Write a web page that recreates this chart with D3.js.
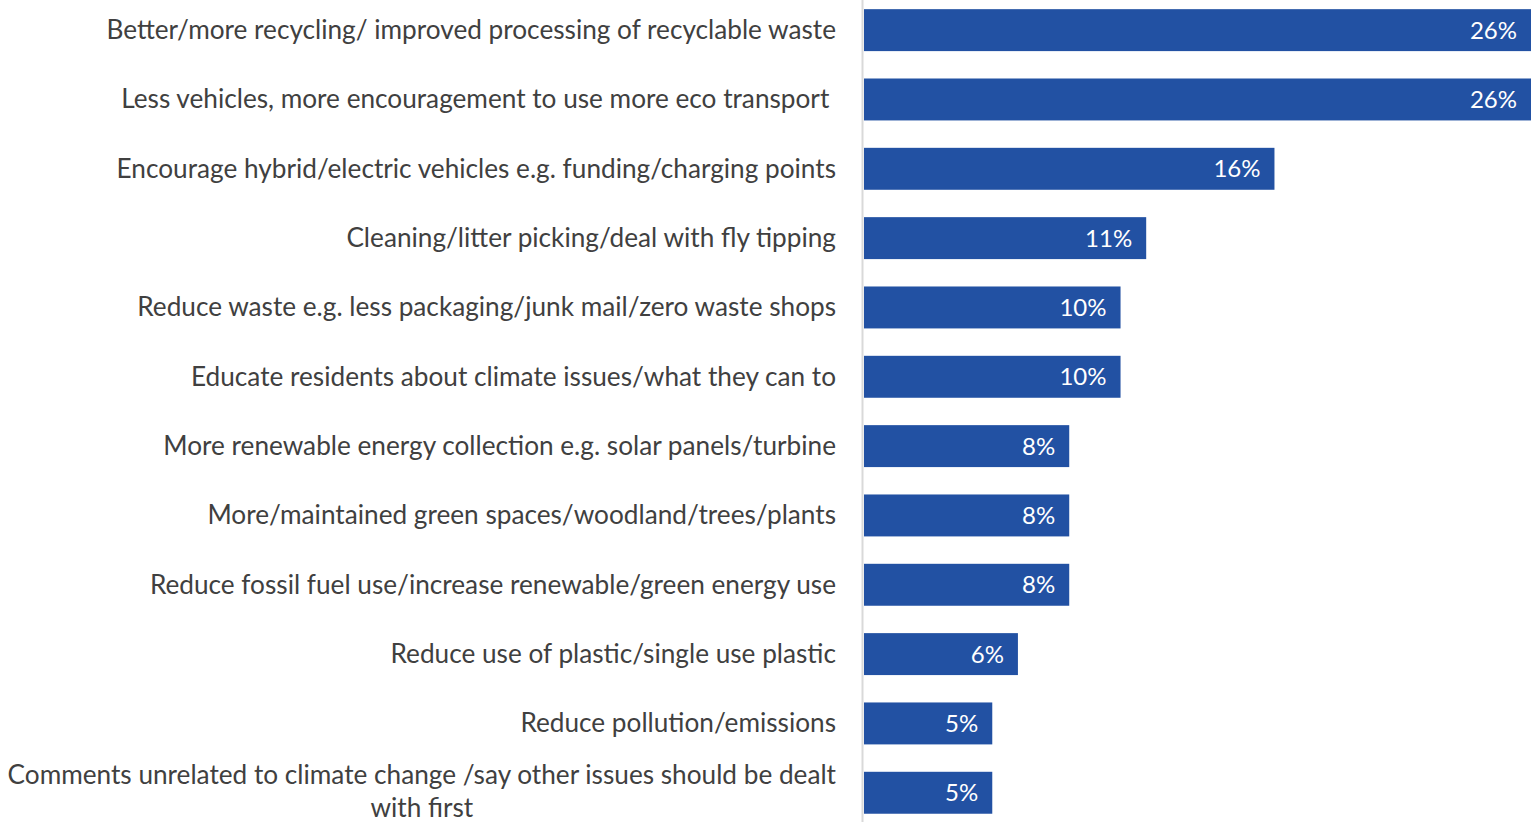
<!DOCTYPE html>
<html><head><meta charset="utf-8">
<script src="https://cdn.jsdelivr.net/npm/d3@7"></script>
<style>
html,body{margin:0;padding:0;background:#fff;}
svg text{white-space:pre;}
</style></head>
<body>
<svg id="chart" width="1531" height="822"></svg>
<script>
const categories = [
  "Better/more recycling/ improved processing of recyclable waste",
  "Less vehicles, more encouragement to use more eco transport ",
  "Encourage hybrid/electric vehicles e.g. funding/charging points",
  "Cleaning/litter picking/deal with fly tipping",
  "Reduce waste e.g. less packaging/junk mail/zero waste shops",
  "Educate residents about climate issues/what they can to",
  "More renewable energy collection e.g. solar panels/turbine",
  "More/maintained green spaces/woodland/trees/plants",
  "Reduce fossil fuel use/increase renewable/green energy use",
  "Reduce use of plastic/single use plastic",
  "Reduce pollution/emissions",
  "Comments unrelated to climate change /say other issues should be dealt with first"
];
const labelLines = [
  ["Better/more recycling/ improved processing of recyclable waste"],
  ["Less vehicles, more encouragement to use more eco transport "],
  ["Encourage hybrid/electric vehicles e.g. funding/charging points"],
  ["Cleaning/litter picking/deal with fly tipping"],
  ["Reduce waste e.g. less packaging/junk mail/zero waste shops"],
  ["Educate residents about climate issues/what they can to"],
  ["More renewable energy collection e.g. solar panels/turbine"],
  ["More/maintained green spaces/woodland/trees/plants"],
  ["Reduce fossil fuel use/increase renewable/green energy use"],
  ["Reduce use of plastic/single use plastic"],
  ["Reduce pollution/emissions"],
  ["Comments unrelated to climate change /say other issues should be dealt", "with first"]
];
const values = [26, 26, 16, 11, 10, 10, 8, 8, 8, 6, 5, 5];

const svg = d3.select("#chart");
const x0 = 864, x1 = 1531;
const x = d3.scaleLinear().domain([0, 26]).range([x0, x1]);
const y = d3.scaleBand().domain(categories).range([-4.7, 827.6]).paddingInner(0.395).paddingOuter(0.2);

const font = "Lato, 'Open Sans', sans-serif";
const textColor = "#404040";
const labelSize = 26.2;

svg.append("line").attr("x1", 862.5).attr("x2", 862.5).attr("y1", 0).attr("y2", 822)
  .attr("stroke", "#d9d9d9").attr("stroke-width", 2);

svg.selectAll("rect.bar").data(values).join("rect")
  .attr("class", "bar")
  .attr("x", x(0))
  .attr("y", (d, i) => y(categories[i]))
  .attr("width", d => x(d) - x(0))
  .attr("height", y.bandwidth())
  .attr("fill", "#2251A3");

svg.selectAll("text.val").data(values).join("text")
  .attr("class", "val")
  .attr("x", d => x(d) - 14)
  .attr("y", (d, i) => y(categories[i]) + y.bandwidth() / 2)
  .attr("dy", "0.36em")
  .attr("text-anchor", "end")
  .attr("fill", "#fff")
  .attr("font-family", font)
  .attr("font-size", 24)
  .text(d => d + "%");

const lab = svg.selectAll("g.lab").data(categories).join("g").attr("class", "lab");
lab.each(function (c, i) {
  const g = d3.select(this);
  const cy = y(c) + y.bandwidth() / 2;
  const lines = labelLines[i];
  if (lines.length === 1) {
    g.append("text").attr("x", 836).attr("y", cy).attr("dy", "0.34em")
      .attr("text-anchor", "end").attr("fill", textColor)
      .attr("font-family", font).attr("font-size", labelSize).text(lines[0]);
  } else {
    const t1 = g.append("text").attr("x", 836).attr("y", cy - 18).attr("dy", "0.34em")
      .attr("text-anchor", "end").attr("fill", textColor)
      .attr("font-family", font).attr("font-size", labelSize).text(lines[0]);
    const w = t1.node().getComputedTextLength();
    g.append("text").attr("x", 836 - w / 2).attr("y", cy + 15).attr("dy", "0.34em")
      .attr("text-anchor", "middle").attr("fill", textColor)
      .attr("font-family", font).attr("font-size", labelSize).text(lines[1]);
  }
});
</script>
</body></html>
